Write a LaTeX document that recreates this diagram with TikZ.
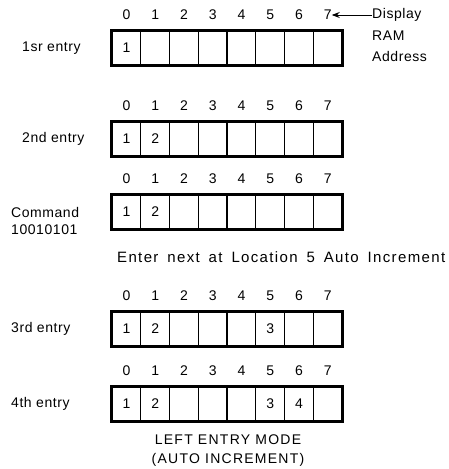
\documentclass[tikz,border=0pt]{standalone}
\usepackage{fontspec}
\setmainfont[LetterSpace=4]{Liberation Sans}
\newfontfamily\loosefont[LetterSpace=9]{Liberation Sans}
\usetikzlibrary{arrows.meta}

\tikzset{
  ramcell/.style={draw, line width=1.3pt, minimum width=28.75pt, minimum height=34pt, inner sep=0pt, font=\fontsize{14}{16}\selectfont},
  ramidx/.style={inner sep=0pt, font=\fontsize{14}{16}\selectfont},
  rowlabel/.style={anchor=west, inner sep=0pt, font=\fontsize{14}{16}\selectfont},
}

% one row of display RAM: #1 = name, #2 = top of the boxes, #3 = contents of cells 0..7
\newcommand{\ramrow}[3]{%
  \foreach \c [count=\i from 0] in {#3} {
    \node[ramcell] (#1c\i) at ({126.4+28.75*\i},{#2+17}) {\c};
    \node[ramidx] (#1d\i) at ({126.4+28.75*\i},{#2-16}) {\i};
  }
  \draw[line width=1.8pt] (#1c0.north west) rectangle (#1c7.south east);
}

\begin{document}
\begin{tikzpicture}[x=1pt, y=-1pt]
  \useasboundingbox (0,0) rectangle (449,469);

  % 1st entry
  \ramrow{ra}{31}{1,{},{},{},{},{},{},{}}
  \node[rowlabel] (la) at (22,48) {1sr entry};

  % address legend
  \node[rowlabel] (disp) at (372,15) {Display};
  \node[rowlabel] (ram) at (372,36) {RAM};
  \node[rowlabel] (addr) at (372,56) {Address};
  \draw[-{Stealth[length=8pt,width=6pt]}, line width=1pt] (disp.west) -- (rad7.east);

  % 2nd entry
  \ramrow{rb}{122}{1,2,{},{},{},{},{},{}}
  \node[rowlabel] (lb) at (22,139) {2nd entry};

  % command
  \ramrow{rc}{195}{1,2,{},{},{},{},{},{}}
  \node[rowlabel] (lc) at (11,212) {Command};
  \node[rowlabel] (lcc) at (11,230) {10010101};
  \node[rowlabel, font=\loosefont\fontsize{15}{17}\selectfont] (note) at (117,257) {\makebox[328pt][s]{Enter next at Location 5 Auto Increment}};

  % 3rd entry
  \ramrow{rd}{312}{1,2,{},{},{},3,{},{}}
  \node[rowlabel] (ld) at (11,329) {3rd entry};

  % 4th entry
  \ramrow{re}{387}{1,2,{},{},{},3,4,{}}
  \node[rowlabel] (le) at (11,404) {4th entry};

  % caption
  \node[align=center, font=\loosefont\fontsize{14}{19}\selectfont] (mode) at (228,451) {LEFT ENTRY MODE\\(AUTO INCREMENT)};
\end{tikzpicture}
\end{document}
